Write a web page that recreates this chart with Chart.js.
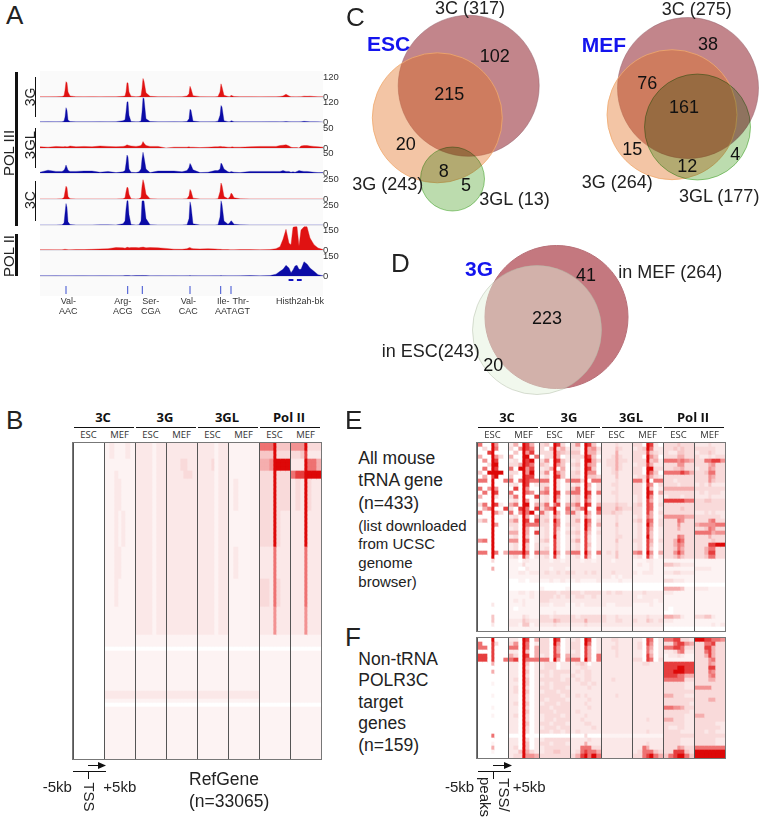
<!DOCTYPE html>
<html lang="en">
<head>
<meta charset="UTF-8">
<title>POL III occupancy figure</title>
<script src="https://cdn.jsdelivr.net/npm/chart.js@4/dist/chart.umd.min.js"></script>
<style>
    body { margin: 0; background: #fff; }
    #fig { position: relative; width: 762px; height: 820px; overflow: hidden; font-family: "Liberation Sans", sans-serif; color: #222; }
    #fig canvas { position: absolute; }
    .t { position: absolute; white-space: nowrap; line-height: 1; }
    .bar { position: absolute; background: #111; }
</style>
</head>
<body>
<div id="fig"></div>
<script>
// panel A: signal tracks
const genomeBins = [0,8,16,22,24,25,26,27,28,30,36,44,52,60,68,76,83,85,86,87,88,89,91,96,99,101,102,103,104,106,110,118,126,134,142,147,149,150,151,153,160,168,175,178,180,181,182,184,188,190,191,192,194,200,210,220,230,236,240,243,246,249,251,253,255,257,259,261,264,267,270,274,278,283];
const track3GEsc = [1,1,2,3,8,40,92,85,30,6, 2,1,2,1,2,2,4,6,30,86, 84,30,5,2,3,8,50,111,95,25, 4,2,2,1,2,6,20,64,50,8, 2,1,1,3,30,79,60,10,3,2, 10,8,3,2,2,1,2,2,3,6, 17,6,2,2,1,1,2,2,5,4, 5,3,2,1];
const track3GMef = [1,2,1,2,6,30,86,70,12,3, 1,1,1,2,1,2,8,14,60,120, 122,40,3,1,2,6,60,146,140,20, 3,1,1,2,1,3,20,77,70,6, 1,1,2,5,40,99,90,8,2,2, 8,6,2,1,1,1,2,2,1,2, 3,2,1,1,1,1,1,2,4,3, 2,2,1,0];
const track3GLEsc = [3,2,4,3,3,4,3,3,3,5, 3,4,3,5,4,3,4,5,6,8, 7,6,5,4,5,6,10,16,12,6, 4,4,0,2,2,2,3,2,2,2, 1,2,3,3,4,4,3,3,2,2, 2,3,2,2,3,4,4,4,6,7, 8,5,2,1,1,1,0,5,6,6, 5,4,3,2];
const track3GLMef = [2,7,4,4,7,12,20,14,7,4, 4,5,5,2,4,1,3,6,24,45, 40,10,2,1,3,10,35,52,40,10, 1,5,5,5,3,6,14,24,20,8, 1,2,6,6,10,25,22,10,3,2, 4,3,2,1,4,4,4,4,4,6, 4,4,2,3,2,4,6,5,4,4, 3,2,1,1];
const track3CEsc = [1,1,1,2,20,90,160,140,30,3, 1,1,1,1,1,1,3,15,90,147, 140,60,4,1,2,20,160,241,200,60, 3,1,1,1,1,3,40,120,100,10, 1,1,1,3,90,200,170,30,4,30, 71,65,15,2,1,1,1,1,1,1, 1,1,1,1,1,1,1,1,1,1, 1,1,1,1];
const track3CMef = [1,1,1,2,25,150,268,220,40,5, 1,1,1,2,2,1,15,50,200,303, 303,130,6,1,3,50,300,303,300,80, 4,1,1,1,1,4,80,290,240,15, 1,1,1,4,100,303,260,50,10,30, 53,45,10,2,1,1,1,1,1,1, 1,1,1,1,1,1,1,1,1,1, 1,1,1,1];
const trackPol2Esc = [2,2,1,1,4,6,4,4,2,2, 3,3,5,8,10,18,16,14,16,20, 20,16,18,18,16,20,20,22,20,16, 18,16,12,6,5,10,16,18,14,10, 8,10,8,6,5,5,4,3,3,2, 2,2,2,3,3,2,3,10,25,80, 155,50,40,170,174,174,30,150,174,174, 90,40,15,3];
const trackPol2Mef = [1,1,2,1,1,1,1,1,1,1, 2,2,1,2,2,1,2,3,3,4, 3,3,2,3,3,3,4,4,3,3, 1,2,1,2,1,2,2,3,2,2, 1,1,2,2,2,3,2,2,1,1, 1,1,1,2,3,1,3,14,35,50, 80,60,25,45,75,80,50,50,107,90, 60,35,10,2];
const trackMax = [120,120,50,50,250,250,150,150];

const geneTicks = [26,87.7,102.3,150,180.7,191];
const histExons = [251,259.3];
const geneNames = [['Val-','AAC',68.3],['Arg-','ACG',122.7],['Ser-','CGA',150.7],['Val-','CAC',188.3],['Ile-','AAT',223.3],['Thr-','AGT',240.7]];

// panel C and D: set sizes and circles
const escNames = ['3C (317)','3G (243)','3GL (13)'];
const escX = [468.7,437.3,452.5], escY = [85.8,117.8,179], escR = [70.5,65,32];
const escCounts = ['102','215','20','8','5'];
const mefNames = ['3C (275)','3G (264)','3GL (177)'];
const mefX = [688,672,697.5], mefY = [88,114.7,127], mefR = [70.5,65,53];
const mefCounts = ['38','76','161','15','12','4'];
const dNames = ['in MEF (264)','in ESC(243)'];
const dX = [556.5,537], dY = [317,330], dR = [71.5,64.5];
const dCounts = ['41','223','20'];

// heat maps: one digit per bin (0 white .. 9 full red), 7 bins per column
const binWidths = [5,5,4,3,4,5,5];
const heatColors = ['#ffffff','#fdf3f3','#fbe8e8','#f9dada','#f7c6c6','#f5aeae','#f29292','#ee7272','#e63e3e','#dd0808'];
const heatGroups = ['3C','3G','3GL','Pol II'];

const rowsB = [
"0000000 1211121 2222122 2222222 2222122 1111111 7779444 6669333",
"0000000 1211121 2222122 2222222 2222122 1111111 4449333 3348222",
"0000000 1111111 2222122 2223322 2223122 1111111 5569999 2229775",
"0000000 1121111 2222122 2222332 2222122 1111111 3339333 7889999",
"0000000 1122111 2222122 2222222 2222122 1211111 3339333 2329322",
"0000000 1121211 2222122 2222222 2222122 1111111 3339322 2229222",
"0000000 1122111 2222122 2222222 2222122 1211111 2227222 2227222",
"0000000 1121111 2222122 2222222 2222122 1111111 3327322 2227222",
"0000000 1111111 2222122 2222222 2222122 1111111 2226222 2226222",
"0000000 1111111 1111111 1111111 1111111 1111111 1111111 1111111",
"0000000 0000000 0000000 0000000 0000000 0000000 0000000 0000000",
"0000000 1111111 1111111 1111111 1111111 1111111 1111111 1111111",
"0000000 2222222 2222222 2222222 2222222 2222222 1111111 1111111",
"0000000 1111111 1111111 1111111 1111111 1111111 1111111 1111111",
"0000000 0000000 0000000 0000000 0000000 0000000 0000000 0000000",
"0000000 1111111 1111111 1111111 1111111 1111111 1111111 1111111"];
const spansB = [2,2,3,2,8,9,8,7,7,3,1,10,2,1,1,13];

const rowsE = [
"7009600 2509850 3409830 3609840 2223222 3309820 3334333 2223222",
"0309700 3069870 3059352 3309563 2224322 2349722 3343433 3333322",
"0089000 0409680 3339543 4409552 2225222 3338432 3224433 2334322",
"5009630 5009907 0339502 3339840 2235322 3309640 3335533 3223233",
"0609800 2309890 3609842 2309953 2335332 3339452 7776765 3377886",
"0039900 3359870 4309640 3409650 2335322 2338522 3336633 3335633",
"0709800 7099680 2359050 2309840 2235322 3309933 3344533 2336533",
"4099990 3309690 3609640 3409660 2234222 3309740 7777875 3347733",
"0508900 4009880 2309840 3309443 2224222 2338532 3333333 3336533",
"7709007 7079877 7709306 7739077 2223222 7729077 3323333 3336433",
"0009000 2309802 3309302 2309503 2233222 3308603 3332333 2324222",
"7069600 0809600 3609302 4709403 2223222 3309402 5555555 3333333",
"0709800 7009760 6709805 7709807 2233222 3309805 3333333 2323332",
"5009300 3709008 2309602 3409602 2223222 2309602 2333233 2223222",
"0009000 2309602 2309402 3408502 2223222 2308502 8888877 3344333",
"3709820 5709905 4707805 5709805 3334332 3408703 3333333 3333333",
"0579008 3089708 3679007 3579008 3335433 3308702 3333433 3333333",
"7009630 7069790 7309506 7309507 3343322 3308503 3333333 2232322",
"0009000 2309505 3307402 3307402 2223222 2307502 6666655 3333332",
"3509000 4609808 3409602 3509703 2223222 3408703 3337633 3336733",
"0009600 3309777 3308603 3309605 2224222 2309603 3336333 5666677",
"0009000 2309502 2308402 2309502 2223222 2308502 3335333 3347633",
"0009000 5509508 2308303 3408403 2223222 2308402 3333333 7777566",
"0009000 2309402 2309302 2308302 2223322 2309402 3337633 3335333",
"6709000 6609702 3408302 3508302 2224222 3308503 3358733 3333433",
"0009000 2309403 2208302 2308402 2223222 2308402 3357633 3338899",
"0009000 2309403 2308302 2308302 2223222 2308302 3347533 3357733",
"7709705 7779707 5509505 7709507 2324222 6709605 3368633 3358833",
"0009000 2308402 2308302 2308402 2224222 2308402 3346433 3347733",
"0003000 1102211 2212212 2212212 2212222 1112211 1111111 1111111",
"0000000 1113111 2222222 2222222 2222222 1211211 4433222 1111111",
"0005000 1100211 2212221 2222222 2222222 1111211 1111111 2222111",
"0000000 1122122 2322323 3223232 2232222 2122211 2233222 1111111",
"0000000 1111111 2222222 2222222 2212122 1111111 1111111 1111111",
"0000000 0011011 1121121 1211112 1111211 1111111 3322211 1111111",
"0000000 0000000 0000000 0000000 0000000 0000000 0000000 0000000",
"0000000 0000000 1000001 0000000 0000000 0000000 5555411 2221111",
"0000000 1122121 3333233 3323333 2323322 2232222 2211111 1111111",
"0000000 1111121 3332323 2332232 2222222 2122222 1111111 1111111",
"0000000 1212111 3322222 2222222 2222222 2222212 1111111 1111111",
"0002000 1112111 2212221 1212222 2112222 1111211 1111111 1111111",
"0000000 1011111 1111111 1111111 1111111 1111111 1011111 1111111",
"0000000 1111111 1112111 1111111 1111111 1111111 0011111 1111111",
"0004000 1113211 3323333 3233333 3223222 2223222 5544211 3344211",
"0004000 2224322 3335433 3335333 3223322 3224323 2211111 1111111",
"0002000 2214412 2223222 2223222 2222222 2222222 1111111 1111212",
"0000000 1111111 1111111 1111111 1111111 1111111 0000000 0000000"];

const rowsF = [
"0009000 2209805 3309802 2309802 2233222 2208702 7788332 9988776",
"7008300 3609702 3309602 3309702 2223222 2308602 3378865 3377833",
"7708000 7709705 3308502 3308502 2233222 2307502 7788733 3388533",
"0008000 2209405 3308502 2308502 2223222 2207402 2236722 3378533",
"8808000 5309805 2308705 3308507 2223222 2208502 1223211 3358533",
"8808007 7809777 7709506 7709507 2222222 3308703 1111111 3336733",
"0005000 2209402 2333022 2343022 2222222 2233222 8888888 3336533",
"0000000 2209302 2333022 2233222 2222222 2222222 8889988 3338833",
"0005000 2209402 3323333 2323322 2222222 2222222 8899988 3337633",
"0000000 2209302 2323322 3223322 2222222 2222222 8887755 3336733",
"0000000 2309402 3333323 2323322 2232222 2222222 7777733 3335533",
"0001000 2209402 2323333 2233232 2222222 2222222 3333322 3333333",
"0000000 2309302 3323332 2222322 2222222 2222222 3333322 6666333",
"0000000 2309402 2333233 2222222 2222222 2222222 3333333 3333333",
"0001000 2209302 3333323 2323222 2223222 2222222 5533322 3333333",
"0000000 2209302 3233332 2222322 2222222 2222222 3333333 3335533",
"0000000 2309402 2333233 2223222 2222222 2222222 3333332 3333333",
"0001000 2209302 3323333 2222322 2222222 2222222 7766533 3333333",
"0000000 2209402 3332333 2322222 2222222 2222222 3333332 3333333",
"0001000 2309302 2333323 2223222 2222222 2222222 3333322 5533333",
"0000000 2209302 2332333 2232222 2222222 2223222 5533322 3333333",
"0000000 2209402 3323332 2223322 2222222 2222222 3333322 3333322",
"0000000 2209302 2333233 2222232 2222222 2222222 3223322 3333332",
"0000000 2209302 3323323 2322222 2222222 2223222 3333222 3323322",
"0007000 0009000 0000000 0003000 1111111 1111111 3333333 3333333",
"0000000 2209302 2333333 2222322 2222222 2222222 3333222 3333322",
"0001000 2209402 3323332 2225222 2222222 2223222 3333222 3333322",
"0005000 2309402 2333333 2277733 2222222 2275222 3336533 7777777",
"0001000 2249532 2334433 2378775 2222222 2377743 3388843 9999999",
"0000000 2339665 3333333 3589797 2222222 3378975 4789974 9999999"];

const fig = document.getElementById('fig');

function text(str, x, y, size, opts) {
    opts = opts || {};
    const d = document.createElement('div');
    d.className = 't';
    d.textContent = str;
    d.style.left = x + 'px';
    d.style.top = y + 'px';
    d.style.fontSize = size + 'px';
    if (opts.bold) d.style.fontWeight = 'bold';
    if (opts.color) d.style.color = opts.color;
    if (opts.font) d.style.fontFamily = opts.font;
    let tr = opts.center ? 'translate(-50%,-50%)' : 'translateY(-50%)';
    if (opts.rotate) tr = 'translate(-50%,-50%) rotate(' + opts.rotate + 'deg)';
    d.style.transform = tr;
    fig.appendChild(d);
}

function bar(x, y, w, h, color) {
    const d = document.createElement('div');
    d.className = 'bar';
    d.style.cssText = 'left:' + x + 'px;top:' + y + 'px;width:' + w + 'px;height:' + h + 'px;' + (color ? 'background:' + color : '');
    fig.appendChild(d);
}

function addCanvas(x, y, w, h) {
    const c = document.createElement('canvas');
    c.width = w;
    c.height = h;
    c.style.left = x + 'px';
    c.style.top = y + 'px';
    fig.appendChild(c);
    return c.getContext('2d');
}

const baseOptions = {
    responsive: false,
    animation: false,
    events: [],
    plugins: { legend: { display: false }, tooltip: { enabled: false } }
};

// ---- panel A
bar(40, 71, 283, 225, '#fafafa');
const trackData = [track3GEsc, track3GMef, track3GLEsc, track3GLMef, track3CEsc, track3CMef, trackPol2Esc, trackPol2Mef];
const trackBase = [96.7, 122.3, 147.7, 173.3, 199, 224.7, 250.3, 276];

trackData.forEach(function (vals, i) {
    // plot is 30px tall, the labelled maximum sits at 20px and peaks may run past it
    const top = Math.round(trackBase[i]) - 36;
    const color = i % 2 ? '#0b0ba6' : '#e01212';
    new Chart(addCanvas(40, top, 307, 42), {
        type: 'line',
        data: {
            datasets: [{
                data: vals.map(function (v, k) { return { x: genomeBins[k], y: v }; }),
                // lineWidth 0 is ignored by canvas, so the edge has to be a pale colour
                borderColor: i % 2 ? 'rgba(11,11,166,0.3)' : 'rgba(224,18,18,0.35)',
                backgroundColor: color,
                borderWidth: 1,
                pointRadius: 0,
                fill: 'origin'
            }]
        },
        options: Object.assign({}, baseOptions, {
            layout: { padding: { top: 6, bottom: 6 }, autoPadding: false },
            scales: {
                x: { type: 'linear', min: 0, max: 283, display: false },
                y: {
                    min: 0, max: trackMax[i] * 1.5, position: 'right',
                    afterBuildTicks: function (s) { s.ticks = [{ value: 0 }, { value: trackMax[i] }]; },
                    afterFit: function (s) { s.width = 24; },
                    ticks: { padding: 0, font: { size: 9.5, family: 'Liberation Sans' }, color: '#333', autoSkip: false },
                    border: { display: false },
                    grid: { drawTicks: false, color: function (c) { return c.tick.value === 0 ? '#e4e4ea' : 'rgba(0,0,0,0)'; } }
                }
            }
        })
    });
});

new Chart(addCanvas(40, 276, 283, 20), {
    type: 'scatter',
    data: {
        datasets: [
            { data: geneTicks.map(function (v) { return { x: v, y: 14 }; }), pointStyle: 'line', rotation: 90, pointRadius: 4, borderColor: '#3a4ed0', borderWidth: 1 },
            { data: histExons.map(function (v) { return { x: v, y: 4 }; }), pointStyle: 'line', pointRadius: 2.4, borderColor: '#1010c0', borderWidth: 2 }
        ]
    },
    options: Object.assign({}, baseOptions, {
        layout: { autoPadding: false },
        scales: {
            x: { type: 'linear', min: 0, max: 283, display: false },
            y: { min: 0, max: 20, reverse: true, display: false }
        }
    })
});

geneNames.forEach(function (g) {
    text(g[0], g[2], 300.7, 9, { center: true, color: '#333' });
    text(g[1], g[2], 311, 9, { center: true, color: '#333' });
});
text('Histh2ah-bk', 300, 300.7, 9, { center: true, color: '#333' });

bar(15, 72, 2.5, 154);
bar(15, 234, 2.5, 42);
bar(34.5, 77, 1.2, 40);
bar(34.5, 128, 1.2, 40);
bar(34.5, 181, 1.2, 40);
text('POL III', 8, 153, 15, { rotate: -90 });
text('POL II', 8, 255.5, 15, { rotate: -90 });
text('3G', 30, 97, 14, { rotate: -90 });
text('3GL', 29, 145, 15, { rotate: -90 });
text('3C', 30, 200, 14, { rotate: -90 });

// ---- panels C and D
function vennSets(xs, ys, rs, colors) {
    return xs.map(function (x, i) {
        return {
            data: [{ x: x, y: ys[i], r: rs[i] }],
            backgroundColor: colors[i][0],
            borderColor: colors[i][1],
            borderWidth: 1,
            order: 3 - i,
            blend: i === 2
        };
    });
}
const vennColors = [
    ['#c2858b', 'rgba(150,100,110,0.5)'],
    ['rgba(225,110,30,0.4)', 'rgba(240,170,110,0.8)'],
    ['#bcdcae', 'rgba(130,200,110,0.8)']
];
const vennScales = {
    x: { type: 'linear', min: 345, max: 762, display: false },
    y: { min: 0, max: 400, reverse: true, display: false }
};
// the green circle darkens what is under it, the others just lie over
const multiply = {
    id: 'multiply',
    beforeDatasetDraw: function (c, args) {
        c.ctx.save();
        if (c.data.datasets[args.index].blend) c.ctx.globalCompositeOperation = 'multiply';
    },
    afterDatasetDraw: function (c) { c.ctx.restore(); }
};
new Chart(addCanvas(345, 0, 417, 400), {
    type: 'bubble',
    data: { datasets: vennSets(escX, escY, escR, vennColors).concat(vennSets(mefX, mefY, mefR, vennColors)) },
    options: Object.assign({}, baseOptions, { layout: { autoPadding: false }, scales: vennScales }),
    plugins: [multiply]
});
// D: the pale ESC circle sits over the MEF one, dataset 0 is drawn last
new Chart(addCanvas(345, 0, 417, 400), {
    type: 'bubble',
    data: {
        datasets: [
            { data: [{ x: dX[1], y: dY[1], r: dR[1] }], backgroundColor: 'rgba(226,240,218,0.48)', borderColor: 'rgba(180,190,170,0.5)', borderWidth: 1 },
            { data: [{ x: dX[0], y: dY[0], r: dR[0] }], backgroundColor: '#c4787f', borderColor: '#b87078', borderWidth: 1 }
        ]
    },
    options: Object.assign({}, baseOptions, { layout: { autoPadding: false }, scales: vennScales })
});

const setFont = { color: '#222' };
text(escNames[0], 435, 8, 18, setFont);
text(escNames[1], 352.3, 184, 18, setFont);
text(escNames[2], 479.3, 199.3, 18, setFont);
text(mefNames[0], 661.7, 9.3, 18, setFont);
text(mefNames[1], 581.7, 181.7, 18, setFont);
text(mefNames[2], 679, 195.7, 18, setFont);
text(dNames[0], 618.3, 272, 18, setFont);
text(dNames[1], 381.7, 350.7, 18, setFont);

const blue = { bold: true, color: '#1414ee' };
text('ESC', 367, 43, 21, blue);
text('MEF', 581.7, 43.5, 21, blue);
text('3G', 465, 267.7, 21, blue);

const escPos = [[494.7,56],[449.3,93.7],[405.7,144],[443.7,170.7],[466,185.3]];
const mefPos = [[708,44],[647.3,83.3],[684,106.7],[632.3,148.7],[687.3,166],[735.3,154]];
const dPos = [[586,275.3],[547,318.3],[493.3,365.3]];
escCounts.forEach(function (n, i) { text(n, escPos[i][0], escPos[i][1], 18, { center: true, color: '#111' }); });
mefCounts.forEach(function (n, i) { text(n, mefPos[i][0], mefPos[i][1], 18, { center: true, color: '#111' }); });
dCounts.forEach(function (n, i) { text(n, dPos[i][0], dPos[i][1], 18, { center: true, color: '#111' }); });

// ---- panels B, E, F
const frame = {
    id: 'frame',
    afterDraw: function (c) {
        const a = c.chartArea;
        c.ctx.save();
        c.ctx.strokeStyle = '#777';
        c.ctx.lineWidth = 1;
        c.ctx.strokeRect(a.left - 0.5, a.top - 0.5, a.width + 1, a.height + 1);
        c.ctx.restore();
    }
};

function heatmap(x, y, rows, spans) {
    const cells = [];
    rows.forEach(function (r, i) {
        const s = r.replace(/ /g, '');
        for (let k = 0; k < (spans ? spans[i] : 1); k++) cells.push(s);
    });
    const datasets = [];
    for (let b = 0; b < 56; b++) {
        datasets.push({
            data: cells.map(function () { return binWidths[b % 7]; }),
            backgroundColor: cells.map(function (s) { return heatColors[+s[b]]; }),
            borderWidth: 0,
            barPercentage: 1,
            categoryPercentage: 1,
            stack: 'row'
        });
    }
    new Chart(addCanvas(x - 1, y - 1, 250, cells.length * 4 + 2), {
        type: 'bar',
        data: { labels: cells.map(function (s, i) { return i; }), datasets: datasets },
        options: Object.assign({}, baseOptions, {
            indexAxis: 'y',
            layout: { padding: 1 },
            scales: {
                x: {
                    type: 'linear', min: 0, max: 248, stacked: true,
                    ticks: { display: false, stepSize: 31 },
                    border: { display: false },
                    grid: { drawTicks: false, color: '#555', lineWidth: 1, z: 1 }
                },
                y: { stacked: true, display: false }
            }
        }),
        plugins: [frame]
    });
}

function heatHeader(x) {
    const headFont = '"Open Sans", sans-serif';
    heatGroups.forEach(function (g, i) {
        const cx = x + 62 * i + 31;
        text(g, cx - 1, 417, 13, { center: true, bold: true, font: headFont, color: '#111' });
        bar(cx - 30, 426.5, 60, 1.2);
        text('ESC', cx - 15.5, 435, 9.5, { center: true, font: headFont, color: '#333' });
        text('MEF', cx + 15.5, 435, 9.5, { center: true, font: headFont, color: '#333' });
    });
}

heatHeader(73);
heatHeader(477);
heatmap(73, 443, rowsB, spansB);
heatmap(477, 443, rowsE);
heatmap(477, 638, rowsF);

function arrow(x0, x1, y, x2, x3) {
    bar(x0, y, x1 - x0, 1.2);
    const c = addCanvas(x1 - 7, y - 3, 8, 7);
    c.fillStyle = '#111';
    c.beginPath();
    c.moveTo(0, 0); c.lineTo(8, 3.5); c.lineTo(0, 7);
    c.fill();
    bar(x2, y + 6, x3 - x2, 1.2);
    bar(x0, y + 6, 1.2, 8);
}
arrow(88, 105, 765, 73, 106);
arrow(493, 511, 765, 478, 511);
text('-5kb', 42.7, 786, 15);
text('+5kb', 103.3, 786, 15);
text('TSS', 89.3, 796.7, 15, { rotate: 90 });
text('RefGene', 189, 780, 17.5);
text('(n=33065)', 189, 801.7, 17.5);
text('-5kb', 445, 786, 15);
text('+5kb', 512.7, 786, 15);
text('peaks', 485, 797, 15, { rotate: 90 });
text('TSS/', 504.3, 795, 15, { rotate: 90 });

text('All mouse', 358.3, 459, 17.5);
text('tRNA gene', 358.3, 480.7, 17.5);
text('(n=433)', 358.3, 504, 17.5);
text('(list downloaded', 358.3, 525, 15);
text('from UCSC', 358.3, 543.3, 15);
text('genome', 358.3, 562, 15);
text('browser)', 358.3, 581, 15);
text('Non-tRNA', 358.3, 660, 17.5);
text('POLR3C', 358.3, 681, 17.5);
text('target', 358.3, 703, 17.5);
text('genes', 358.3, 724, 17.5);
text('(n=159)', 358.3, 745.7, 17.5);

// panel letters
text('A', 6, 15, 26);
text('B', 6, 420, 26);
text('C', 346, 17, 26);
text('D', 391, 263, 26);
text('E', 345, 420, 26);
text('F', 345, 637, 26);
</script>
</body>
</html>
